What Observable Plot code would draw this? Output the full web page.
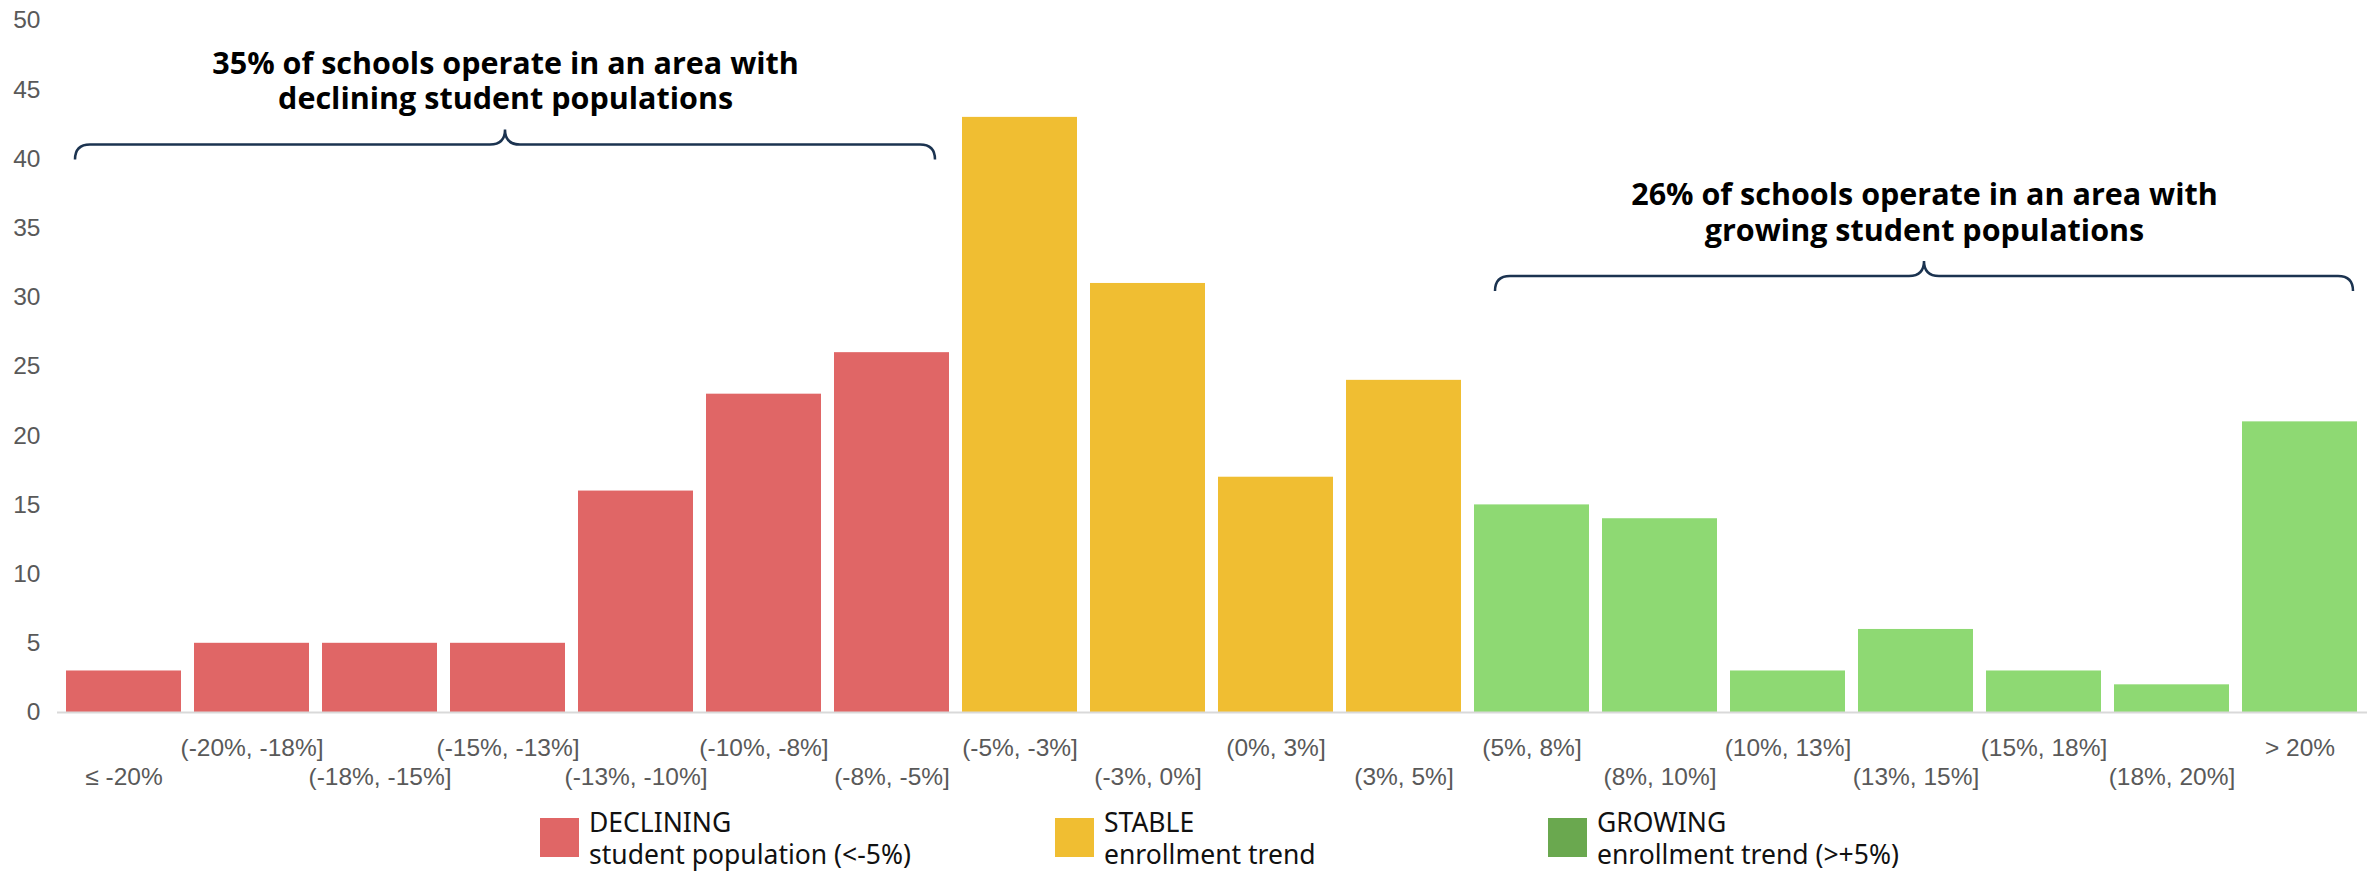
<!DOCTYPE html>
<html>
<head>
<meta charset="utf-8">
<script src="https://cdn.jsdelivr.net/npm/d3@7"></script>
<script src="https://cdn.jsdelivr.net/npm/@observablehq/plot@0.6"></script>
<style>
  body { margin: 0; background: #fff; }
  #wrap { position: relative; width: 2377px; height: 872px; overflow: hidden; }
  #chart svg { display: block; }
  .leg { position: absolute; top: 806px; font-family: "Noto Sans", sans-serif; font-size: 26.5px; line-height: 32px; color: #111; white-space: nowrap; }
  .leg .sw { position: absolute; left: 0; top: 12px; width: 39px; height: 39px; }
  .leg .tx { position: absolute; left: 49px; top: 0; }
</style>
</head>
<body>
<div id="wrap">
  <div id="chart"></div>
</div>
<script>
// ---- data ----
const categories = ["≤ -20%", "(-20%, -18%]", "(-18%, -15%]", "(-15%, -13%]", "(-13%, -10%]", "(-10%, -8%]", "(-8%, -5%]",
  "(-5%, -3%]", "(-3%, 0%]", "(0%, 3%]", "(3%, 5%]",
  "(5%, 8%]", "(8%, 10%]", "(10%, 13%]", "(13%, 15%]", "(15%, 18%]", "(18%, 20%]", "> 20%"];
const counts = [3, 5, 5, 5, 16, 23, 26, 43, 31, 17, 24, 15, 14, 3, 6, 3, 2, 21];
const groups = ["DECLINING", "DECLINING", "DECLINING", "DECLINING", "DECLINING", "DECLINING", "DECLINING",
  "STABLE", "STABLE", "STABLE", "STABLE",
  "GROWING", "GROWING", "GROWING", "GROWING", "GROWING", "GROWING", "GROWING"];
const groupNames = ["DECLINING", "STABLE", "GROWING"];
const barColors = ["#E06666", "#F0BE32", "#8ED973"];
const legendColors = ["#E06666", "#F0BE32", "#6AA84F"];
const legendLine2 = ["student population (<-5%)", "enrollment trend", "enrollment trend (>+5%)"];
const yTicks = [0, 5, 10, 15, 20, 25, 30, 35, 40, 45, 50];
const annotationTexts = ["35% of schools operate in an area with\ndeclining student populations",
  "26% of schools operate in an area with\ngrowing student populations"];
const annotationFrom = ["≤ -20%", "(5%, 8%]"];
const annotationTo = ["(-8%, -5%]", "> 20%"];
const annotationCenterCat = ["(-15%, -13%]", "(13%, 15%]"];
const braceValues = [41, 31.5];
const annotationValues = [45.7, 36.2];

const data = categories.map((c, i) => ({cat: c, count: counts[i], group: groups[i]}));
const oddCats = categories.filter((c, i) => i % 2 === 1);
const evenCats = categories.filter((c, i) => i % 2 === 0);

const axisFont = {fontFamily: "'Liberation Sans', Arial, sans-serif", fontSize: "24.5px"};
const annFont = {fontFamily: "'Open Sans', sans-serif", fontWeight: "bold", fontSize: 30.5, lineHeight: 1.17, fill: "#000", textAnchor: "middle"};
const annDx = [-2.4, 8.5];

const plot = Plot.plot({
  width: 2377,
  height: 800,
  marginLeft: 57,
  marginRight: 10,
  marginTop: 20,
  marginBottom: 88,
  style: {background: "#fff", overflow: "visible"},
  x: {domain: categories, paddingInner: 0.1, paddingOuter: 0.05, axis: null},
  y: {domain: [0, 50], axis: null},
  color: {domain: groupNames, range: barColors},
  marks: [
    Plot.barY(data, {x: "cat", y: "count", fill: "group"}),
    Plot.ruleY([0], {stroke: "#D9D9D9", strokeWidth: 2}),
    Plot.axisY(yTicks, {anchor: "left", tickSize: 0, tickPadding: 17, line: true, stroke: "#D9D9D9", strokeWidth: 2, fill: "#595959", ...axisFont, label: null}),
    Plot.axisX(oddCats, {tickSize: 0, tickPadding: 26, fill: "#595959", ...axisFont, label: null}),
    Plot.axisX(evenCats, {tickSize: 0, tickPadding: 55, fill: "#595959", ...axisFont, label: null}),
    ...annotationTexts.map((t, i) => Plot.text([t], {
      x: () => annotationCenterCat[i],
      y: () => annotationValues[i],
      text: d => d,
      dx: annDx[i],
      ...annFont
    }))
  ]
});
document.getElementById("chart").appendChild(plot);

// braces, placed with Plot's own scales
const xs = plot.scale("x");
const ys = plot.scale("y");
const bw = xs.bandwidth;
const svg = d3.select(plot);
const insetsL = [9, 21];
const insetsR = [14, 4];
const braceInfo = annotationFrom.map((f, i) => {
  const x0 = xs.apply(f) + insetsL[i];
  const x1 = xs.apply(annotationTo[i]) + bw - insetsR[i];
  return {x0, x1, xm: (x0 + x1) / 2, y: ys.apply(braceValues[i])};
});
const r = 15, h = 15;
const g = svg.append("g").attr("fill", "none").attr("stroke", "#1B3350").attr("stroke-width", 2.5);
braceInfo.forEach(b => {
  const p = `M${b.x0},${b.y + r} Q${b.x0},${b.y} ${b.x0 + r},${b.y} L${b.xm - h},${b.y} Q${b.xm},${b.y} ${b.xm},${b.y - h} Q${b.xm},${b.y} ${b.xm + h},${b.y} L${b.x1 - r},${b.y} Q${b.x1},${b.y} ${b.x1},${b.y + r}`;
  g.append("path").attr("d", p);
});

// legend (HTML, below the svg)
const legLeft = [540, 1055, 1548];
const wrap = document.getElementById("wrap");
groupNames.forEach((n, i) => {
  const el = document.createElement("div");
  el.className = "leg";
  el.style.left = legLeft[i] + "px";
  el.innerHTML = `<div class="sw" style="background:${legendColors[i]}"></div><div class="tx">${n}<br>${legendLine2[i].replace(/</g, "&lt;")}</div>`;
  wrap.appendChild(el);
});
</script>
</body>
</html>
